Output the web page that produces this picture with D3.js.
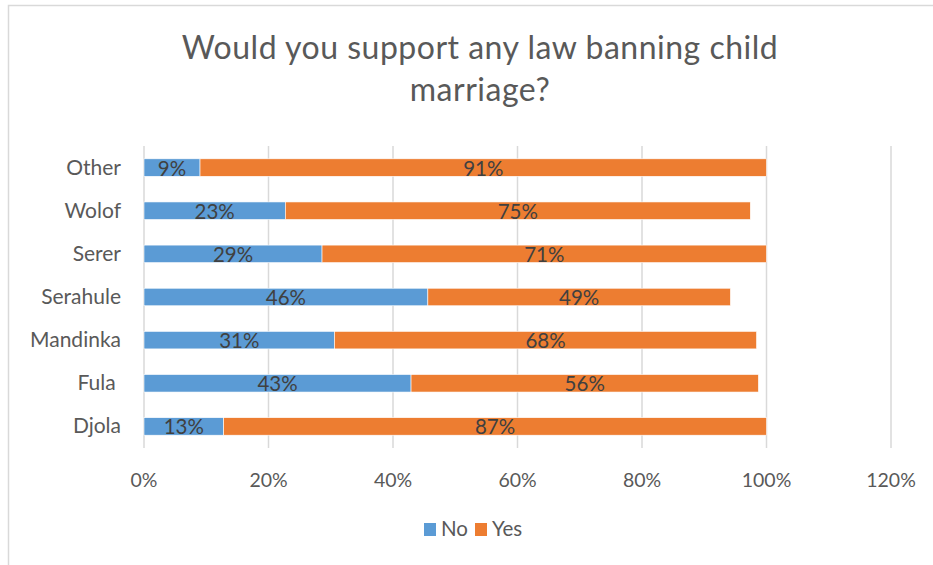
<!DOCTYPE html>
<html>
<head>
<meta charset="utf-8">
<script src="https://cdn.jsdelivr.net/npm/d3@7"></script>
<style>
  body { margin: 0; background: #fff; }
  svg { display: block; font-family: Lato, "Open Sans", sans-serif; }
  .grid line { stroke: #d9d9d9; stroke-width: 1.5; }
  .cat { fill: #595959; font-size: 21px; white-space: pre; }
  .tick-label { fill: #595959; font-size: 19.5px; }
  .label { fill: #404040; font-size: 20.5px; }
</style>
</head>
<body>
<svg id="chart" width="933" height="565"></svg>
<script>
  // top to bottom, as in the picture
  const categories = ["Other", "Wolof", "Serer", "Serahule", "Mandinka", "Fula ", "Djola"];
  const noVals  = [9.0, 22.7, 28.6, 45.6, 30.6, 42.9, 12.8];
  const yesVals = [91.0, 74.7, 71.4, 48.6, 67.8, 55.8, 87.2];
  const tickVals = [0, 20, 40, 60, 80, 100, 120];
  const seriesNames = ["No", "Yes"];
  const colours = ["#5b9bd5", "#ed7d31"];

  const svg = d3.select('#chart');

  // chart border
  svg.append('rect')
    .attr('x', 8.5).attr('y', 5.5)
    .attr('width', 1000).attr('height', 600)
    .style('fill', 'none')
    .style('stroke', '#d9d9d9')
    .style('stroke-width', 1.5);

  // title
  svg.append('text')
    .attr('text-anchor', 'middle')
    .style('fill', '#595959')
    .style('font-size', '32px')
    .style('letter-spacing', '0.5px')
    .selectAll('tspan')
    .data(["Would you support any law banning child", "marriage?"])
    .enter()
    .append('tspan')
    .attr('x', 480)
    .attr('y', (d, i) => 59 + i * 42)
    .text(d => d);

  var x = d3.scaleLinear().domain([0, 120]).range([144, 891]);
  var y = d3.scaleBand().domain(categories).range([146, 448])
    .paddingInner(0.594).paddingOuter(0.297);

  // gridlines
  svg.append('g').attr('class', 'grid')
    .selectAll('line')
    .data(tickVals)
    .enter()
    .append('line')
    .attr('x1', d => x(d)).attr('x2', d => x(d))
    .attr('y1', 146).attr('y2', 448);

  // x tick labels
  svg.append('g')
    .selectAll('text')
    .data(tickVals)
    .enter()
    .append('text')
    .attr('class', 'tick-label')
    .attr('x', d => x(d))
    .attr('y', 487)
    .attr('text-anchor', 'middle')
    .text(d => d + '%');

  // category labels
  svg.append('g')
    .selectAll('text')
    .data(categories)
    .enter()
    .append('text')
    .attr('class', 'cat')
    .attr('x', 121)
    .attr('y', d => y(d) + y.bandwidth() / 2 + 7)
    .attr('text-anchor', 'end')
    .text(d => d);

  // stacked bars
  var rows = categories.map((c, i) => ({cat: c, No: noVals[i], Yes: yesVals[i]}));
  var stacked = d3.stack().keys(seriesNames)(rows);

  var layers = svg.append('g')
    .selectAll('g')
    .data(stacked)
    .enter()
    .append('g')
    .style('fill', (d, i) => colours[i]);

  layers.selectAll('rect')
    .data(d => d)
    .enter()
    .append('rect')
    .attr('x', d => x(d[0]))
    .attr('y', d => y(d.data.cat))
    .attr('width', d => x(d[1]) - x(d[0]))
    .attr('height', y.bandwidth())
    .style('stroke', '#fff')
    .style('stroke-width', 0.6);

  layers.selectAll('text')
    .data(d => d)
    .enter()
    .append('text')
    .attr('class', 'label')
    .attr('x', d => (x(d[0]) + x(d[1])) / 2)
    .attr('y', d => y(d.data.cat) + y.bandwidth() / 2 + 8)
    .attr('text-anchor', 'middle')
    .text(d => Math.round(d[1] - d[0]) + '%');

  // legend
  var legend = svg.append('g')
    .selectAll('g')
    .data(seriesNames)
    .enter()
    .append('g')
    .attr('transform', (d, i) => 'translate(' + [424 + i * 51, 523] + ')');

  legend.append('rect')
    .attr('width', 12).attr('height', 13)
    .style('fill', (d, i) => colours[i]);

  legend.append('text')
    .attr('x', 17).attr('y', 13)
    .style('fill', '#595959')
    .style('font-size', '20.5px')
    .text(d => d);
</script>
</body>
</html>
